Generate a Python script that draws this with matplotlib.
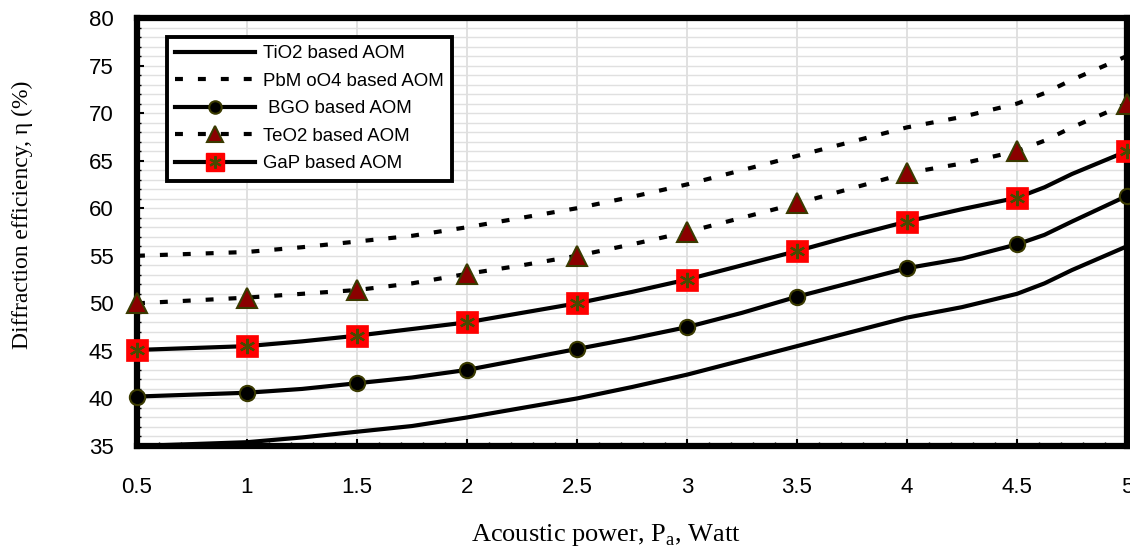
import matplotlib
matplotlib.use("Agg")
import matplotlib.pyplot as plt
from matplotlib.ticker import MultipleLocator
from matplotlib.lines import Line2D

# Line data (finer sampling) and marker data (every 0.5 W)
x_line = [0.5, 0.75, 1.0, 1.25, 1.5, 1.75, 2.0, 2.25, 2.5, 2.75, 3.0, 3.25, 3.5, 3.75, 4.0, 4.25, 4.5, 4.625, 4.75, 5.0]
tio2 = [35.0, 35.2, 35.4, 35.9, 36.5, 37.1, 38.0, 39.0, 40.0, 41.2, 42.5, 44.0, 45.5, 47.0, 48.5, 49.6, 51.0, 52.1, 53.5, 56.0]
pbmoo4 = [55.0, 55.2, 55.4, 55.9, 56.5, 57.1, 58.0, 59.0, 60.0, 61.2, 62.5, 64.0, 65.5, 67.0, 68.5, 69.6, 71.0, 72.1, 73.5, 76.0]
bgo = [40.2, 40.4, 40.6, 41.0, 41.6, 42.2, 43.0, 44.1, 45.2, 46.3, 47.5, 49.0, 50.7, 52.2, 53.7, 54.7, 56.2, 57.2, 58.6, 61.3]
teo2 = [50.0, 50.3, 50.6, 51.0, 51.4, 52.1, 53.1, 54.0, 55.0, 56.2, 57.5, 59.0, 60.5, 62.1, 63.7, 64.7, 66.0, 67.1, 68.5, 71.0]
gap = [45.1, 45.3, 45.5, 46.0, 46.6, 47.3, 48.0, 49.0, 50.0, 51.2, 52.5, 54.0, 55.5, 57.1, 58.6, 59.9, 61.1, 62.2, 63.6, 66.0]

x_mark = [0.5, 1.0, 1.5, 2.0, 2.5, 3.0, 3.5, 4.0, 4.5, 5.0]
bgo_m = [40.2, 40.6, 41.6, 43.0, 45.2, 47.5, 50.7, 53.7, 56.2, 61.3]
teo2_m = [50.0, 50.6, 51.4, 53.1, 55.0, 57.5, 60.5, 63.7, 66.0, 71.0]
gap_m = [45.1, 45.5, 46.6, 48.0, 50.0, 52.5, 55.5, 58.6, 61.1, 66.0]

labels = ["TiO2 based AOM", "PbM oO4 based AOM", " BGO based AOM", "TeO2 based AOM", "GaP based AOM"]
x_ticks = [0.5, 1, 1.5, 2, 2.5, 3, 3.5, 4, 4.5, 5]
x_ticklabels = ["0.5", "1", "1.5", "2", "2.5", "3", "3.5", "4", "4.5", "5"]

sans = ["Liberation Sans", "DejaVu Sans"]
serif = ["Liberation Serif", "DejaVu Serif"]

W, H = 1130, 549
fig = plt.figure(figsize=(W / 100, H / 100), dpi=100)
ax = fig.add_axes([137 / W, 1 - 446 / H, (1127 - 137) / W, (446 - 18) / H])

lw = 3.0
edge = "#3a3a00"
dash = (1.9, 3.6)

ax.plot(x_line, tio2, color="black", lw=lw, zorder=3)
ax.plot(x_line, pbmoo4, color="black", lw=lw, dashes=dash, zorder=3)
ax.plot(x_line, bgo, color="black", lw=lw, zorder=3)
ax.plot(x_line, teo2, color="black", lw=lw, dashes=dash, zorder=3)
ax.plot(x_line, gap, color="black", lw=lw, zorder=3)

ax.plot(x_mark, bgo_m, ls="none", marker="o", ms=11, mfc="black", mec=edge, mew=1.5, zorder=5, clip_on=False)
ax.plot(x_mark, teo2_m, ls="none", marker="^", ms=14, mfc="#8b0000", mec=edge, mew=1.5, zorder=5, clip_on=False)
ax.plot(x_mark, gap_m, ls="none", marker="s", ms=15.5, mfc="#ff0000", mec="#ff0000", mew=0.5, zorder=5, clip_on=False)
ax.plot(x_mark, gap_m, ls="none", marker=(6, 2, 0), ms=11, mec="#4a4a00", mew=1.6, zorder=6, clip_on=False)

ax.set_xlim(0.5, 5)
ax.set_ylim(35, 80)
ax.set_xticks(x_ticks)
ax.set_xticklabels(x_ticklabels)
ax.xaxis.set_minor_locator(MultipleLocator(0.1))
ax.yaxis.set_major_locator(MultipleLocator(5))
ax.yaxis.set_minor_locator(MultipleLocator(1))

ax.grid(True, which="major", axis="x", color="#dcdcdc", lw=1.2, zorder=0)
ax.grid(True, which="both", axis="y", color="#e0e0e0", lw=1.0, zorder=0)

ax.tick_params(axis="both", which="major", direction="in", length=5, width=1.5, labelsize=16)
ax.tick_params(axis="both", which="minor", direction="in", length=3, width=1.0)
ax.tick_params(axis="x", which="major", pad=22)
ax.tick_params(axis="y", which="major", pad=17)
for lab in ax.get_xticklabels() + ax.get_yticklabels():
    lab.set_fontfamily(sans)

for s in ax.spines.values():
    s.set_linewidth(4.5)

fig.text(606 / W, 1 - 535 / H, "Acoustic power, P$_\\mathregular{a}$, Watt", fontsize=19, family=serif,
         ha="center", va="center")
fig.text(22 / W, 1 - 215 / H, "Diffraction efficiency, η (%)", fontsize=17, family=serif,
         ha="center", va="center", rotation=90)

handles = [
    Line2D([], [], color="black", lw=lw),
    Line2D([], [], color="black", lw=lw, dashes=dash),
    Line2D([], [], color="black", lw=lw, marker="o", ms=9, mfc="black", mec=edge, mew=1.5),
    Line2D([], [], color="black", lw=lw, dashes=dash, marker="^", ms=11, mfc="#8b0000", mec=edge, mew=1.5),
    (Line2D([], [], color="black", lw=lw, marker="s", ms=13, mfc="#ff0000", mec="#ff0000"),
     Line2D([], [], ls="none", marker=(6, 2, 0), ms=9, mec="#4a4a00", mew=1.5)),
]
leg = ax.legend(handles, labels, loc="upper left", bbox_to_anchor=(167 / W, 1 - 37 / H),
                bbox_transform=fig.transFigure, borderaxespad=0,
                prop={"family": sans, "size": 13.4}, handlelength=4.3, labelspacing=0.56,
                handletextpad=0.4, borderpad=0.45, fancybox=False, framealpha=1, edgecolor="black")
leg.get_frame().set_linewidth(2.8)
leg.set_zorder(10)

fig.savefig("out.png", dpi=100)
